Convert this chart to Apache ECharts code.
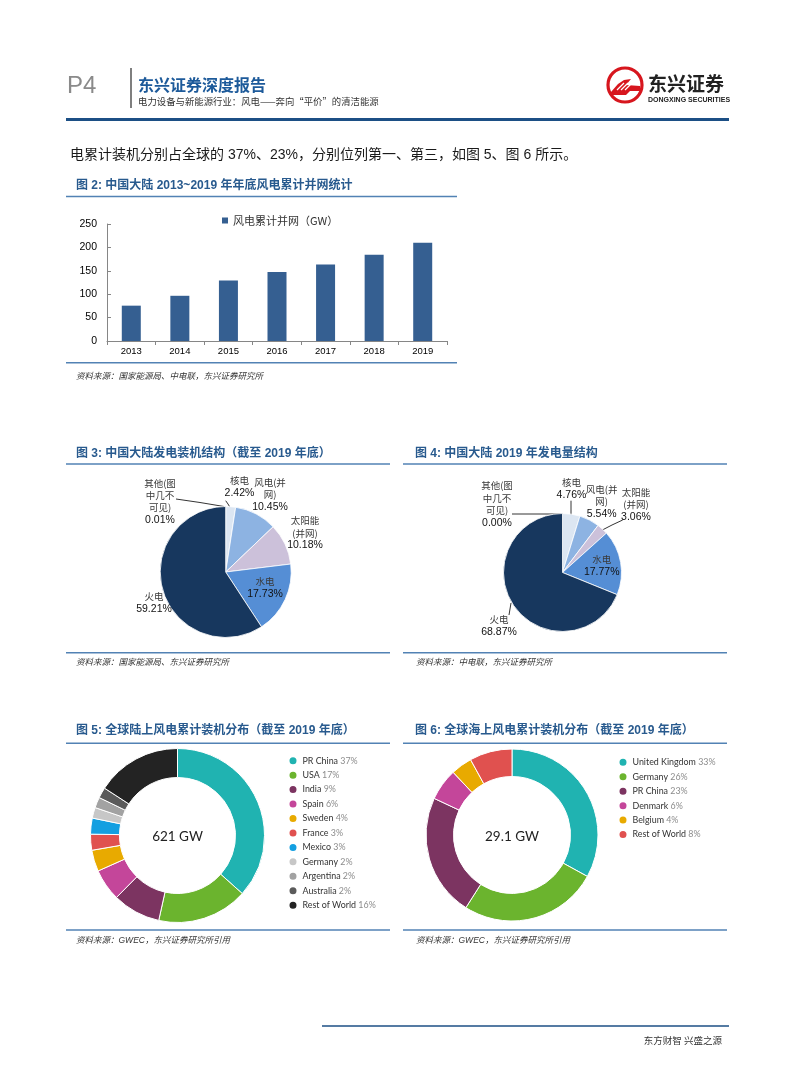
<!DOCTYPE html>
<html><head><meta charset="utf-8">
<script src="https://cdn.jsdelivr.net/npm/echarts@6/dist/echarts.min.js"></script>
<style>
html,body{margin:0;padding:0;background:#fff;}
#main{position:absolute;left:0;top:0;width:794px;height:1077px;}
#fig6{position:absolute;left:400px;top:745px;width:340px;height:185px;}
</style></head>
<body>
<div id="main"></div>
<div id="fig6"></div>
<script>
// ---------- data ----------
const fig2Years = ['2013','2014','2015','2016','2017','2018','2019'];
const fig2Values = [75.5, 96.6, 129.3, 147.5, 163.7, 184.3, 210.0];
const fig2SeriesName = '风电累计并网（GW）';

const fig3Names = ['其他(图中几不可见)','核电','风电(并网)','太阳能(并网)','水电','火电'];
const fig3Labels = ['其他(图\n中几不\n可见)','核电','风电(并\n网)','太阳能\n(并网)','水电','火电'];
const fig3Values = [0.01, 2.42, 10.45, 10.18, 17.73, 59.21];

const fig4Names = ['其他(图中几不可见)','核电','风电(并网)','太阳能(并网)','水电','火电'];
const fig4Labels = ['其他(图\n中几不\n可见)','核电','风电(并\n网)','太阳能\n(并网)','水电','火电'];
const fig4Values = [0.00, 4.76, 5.54, 3.06, 17.77, 68.87];

const fig5Names = ['PR China','USA','India','Spain','Sweden','France','Mexico','Germany','Argentina','Australia','Rest of World'];
const fig5Values = [37, 17, 9, 6, 4, 3, 3, 2, 2, 2, 16];
const fig5Total = '621 GW';

const fig6Names = ['United Kingdom','Germany','PR China','Denmark','Belgium','Rest of World'];
const fig6Values = [33, 26, 23, 6, 4, 8];
const fig6Total = '29.1 GW';

// ---------- styles / layout ----------
const CJK = '"Noto Sans CJK SC", sans-serif';
const LAT = '"Liberation Sans", "Noto Sans CJK SC", sans-serif';
const GILL = 'Lato, "Noto Sans", sans-serif';
const titleBlue = '#285a8e';
const lineBlue = '#5282b4';
const energyColors = ['#4f81bd','#dce6f2','#8db3e2','#ccc1da','#558ed5','#17375e'];
const fig5Colors = ['#20b3b1','#6bb42e','#7c3461','#c4469a','#e8aa00','#e0514f','#139fe1','#c7c7c7','#a2a2a2','#5b5b5b','#232323'];
const fig6Colors = ['#20b3b1','#6bb42e','#7c3461','#c4469a','#e8aa00','#e0514f'];

const fig3LabelPos = [[160,501.7],[239.5,486.5],[270,494.5],[305,533],[265,587.5],[154,602.7]];
const fig3LinePts = {0:[[176,499],[200,502.5],[224,506.5]], 1:[[225.7,500.7],[228,504],[230,507.3]]};
const fig4LabelPos = [[497,504.2],[571.5,489],[601.7,501.4],[636,504.4],[601.7,565.8],[499,625.8]];
const fig4LinePts = {0:[[512,514],[537,514],[562.5,514]], 1:[[571,500.7],[571,508],[571,515]], 3:[[622.7,520],[612,525],[601,530.7]], 5:[[509,615],[510,609],[511,603]]};

function txt(x, y, text, o) {
  return {type:'text', x:x, y:y, silent:true, style:Object.assign({text:text, fill:'#222', fontSize:12, fontFamily:CJK, align:'left', verticalAlign:'middle'}, o||{})};
}
function ln(x1, y1, x2, y2, color, w) {
  return {type:'line', silent:true, shape:{x1:x1,y1:y1,x2:x2,y2:y2}, style:{stroke:color, lineWidth:w}};
}

function energyPie(names, labels, values, center, radius, labelPos, linePts) {
  return {
    type:'pie', center:center, radius:radius, startAngle:90, clockwise:true,
    avoidLabelOverlap:false, silent:true,
    itemStyle:{borderColor:'#fff', borderWidth:0.8},
    data: names.map((n,i)=>({name:n, value:values[i], itemStyle:{color:energyColors[i]},
      labelLine:{show: !!linePts[i], lineStyle:{color:'#000', width:0.8}}})),
    label:{show:true, position:'outside', align:'center',
      formatter: p => '{n|' + labels[p.dataIndex] + '}\n{v|' + p.value.toFixed(2) + '%}',
      rich:{
        n:{fontFamily:CJK, fontSize:9.5, color:'#3a3a3a', lineHeight:12.3, align:'center'},
        v:{fontFamily:LAT, fontSize:10.5, color:'#111', lineHeight:12.3, align:'center'}
      }},
    labelLayout: p => {
      const pos = labelPos[p.dataIndex];
      const r = {x:pos[0], y:pos[1], align:'center', verticalAlign:'middle'};
      if (linePts[p.dataIndex]) r.labelLinePoints = linePts[p.dataIndex];
      return r;
    }
  };
}

function donut(names, values, colors, center, radius) {
  return {
    type:'pie', center:center, radius:radius, startAngle:90, clockwise:true, silent:true,
    itemStyle:{borderColor:'#fff', borderWidth:1},
    label:{show:false}, labelLine:{show:false},
    data: names.map((n,i)=>({name:n, value:values[i], itemStyle:{color:colors[i]}}))
  };
}
function donutLegend(names, values, left, top) {
  return {
    orient:'vertical', left:left, top:top, icon:'circle', itemWidth:9, itemHeight:9, itemGap:2.45,
    selectedMode:false, data:names, padding:0,
    formatter: name => '{n|' + name + '} {v|' + values[names.indexOf(name)] + '%}',
    textStyle:{fontFamily:GILL, fontSize:8.9, lineHeight:12,
      rich:{n:{fontFamily:GILL, fontSize:8.9, color:'#333', lineHeight:12},
            v:{fontFamily:GILL, fontSize:8.9, color:'#8c8c8c', lineHeight:12}}}
  };
}

// ---------- graphics ----------
const graphics = [
  txt(67, 86, 'P4', {fontFamily:LAT, fontSize:24, fill:'#8a8a8a'}),
  ln(131, 68, 131, 108, '#555', 1.5),
  txt(138, 85, '东兴证券深度报告', {fontSize:16, fontWeight:'bold', fill:'#1d5a9a'}),
  txt(138, 101, '电力设备与新能源行业：风电——奔向“平价”的清洁能源', {fontSize:9.4, fill:'#333'}),
  // logo
  {type:'circle', silent:true, shape:{cx:625, cy:85, r:17}, style:{fill:'#fff', stroke:'#d7161e', lineWidth:3.2}},
  {type:'polygon', silent:true, shape:{points:[[611,92],[618,84],[624,80],[631,79],[626,85],[640,86],[640,91],[630,91],[626,95],[611,95]]}, style:{fill:'#d7161e'}},
  ln(617,90,624,83,'#fff',1.2), ln(621,90,628,83,'#fff',1.2), ln(625,90,632,83,'#fff',1.2),
  txt(648, 84, '东兴证券', {fontSize:19, fontWeight:'bold', fill:'#222'}),
  txt(648, 100.5, 'DONGXING SECURITIES', {fontFamily:LAT, fontSize:7, fontWeight:'bold', fill:'#222'}),
  ln(66, 119.5, 729, 119.5, '#1c4f85', 3.2),
  txt(70, 155, '电累计装机分别占全球的 37%、23%，分别位列第一、第三，如图 5、图 6 所示。', {fontFamily:LAT, fontSize:14, fill:'#1a1a1a'}),

  // fig 2
  txt(76, 186, '图 2: 中国大陆 2013~2019 年年底风电累计并网统计', {fontFamily:LAT, fontSize:12, fontWeight:'bold', fill:titleBlue}),
  ln(66, 196.5, 457, 196.5, lineBlue, 1.5),
  ln(66, 362.7, 457, 362.7, lineBlue, 1.5),
  txt(76, 376, '资料来源：国家能源局、中电联，东兴证券研究所', {fontSize:8.5, fontStyle:'italic', fill:'#333'}),

  // fig 3
  txt(76, 453.3, '图 3: 中国大陆发电装机结构（截至 2019 年底）', {fontFamily:LAT, fontSize:12, fontWeight:'bold', fill:titleBlue}),
  ln(66, 464, 390, 464, lineBlue, 1.5),
  ln(66, 652.7, 390, 652.7, lineBlue, 1.5),
  txt(76, 662, '资料来源：国家能源局、东兴证券研究所', {fontSize:8.5, fontStyle:'italic', fill:'#333'}),

  // fig 4
  txt(415, 453.3, '图 4: 中国大陆 2019 年发电量结构', {fontFamily:LAT, fontSize:12, fontWeight:'bold', fill:titleBlue}),
  ln(403, 464, 727, 464, lineBlue, 1.5),
  ln(403, 652.7, 727, 652.7, lineBlue, 1.5),
  txt(416, 662, '资料来源：中电联，东兴证券研究所', {fontSize:8.5, fontStyle:'italic', fill:'#333'}),

  // fig 5
  txt(76, 730.5, '图 5: 全球陆上风电累计装机分布（截至 2019 年底）', {fontFamily:LAT, fontSize:12, fontWeight:'bold', fill:titleBlue}),
  ln(66, 743.3, 390, 743.3, lineBlue, 1.5),
  ln(66, 930, 390, 930, lineBlue, 1.5),
  txt(76, 941, '资料来源：GWEC，东兴证券研究所引用', {fontFamily:LAT, fontSize:8.5, fontStyle:'italic', fill:'#333'}),
  txt(177.5, 836.5, fig5Total, {fontFamily:GILL, fontSize:13.5, fill:'#222', align:'center'}),

  // fig 6
  txt(415, 730.5, '图 6: 全球海上风电累计装机分布（截至 2019 年底）', {fontFamily:LAT, fontSize:12, fontWeight:'bold', fill:titleBlue}),
  ln(403, 743.3, 727, 743.3, lineBlue, 1.5),
  ln(403, 930, 727, 930, lineBlue, 1.5),
  txt(416, 941, '资料来源：GWEC，东兴证券研究所引用', {fontFamily:LAT, fontSize:8.5, fontStyle:'italic', fill:'#333'}),

  // footer
  ln(322, 1026, 729, 1026, '#1c4f85', 1.5),
  txt(722, 1040, '东方财智 兴盛之源', {fontSize:9.5, fill:'#333', align:'right'})
];

// ---------- main chart ----------
const main = echarts.init(document.getElementById('main'), null, {renderer:'canvas'});
main.setOption({
  animation:false,
  backgroundColor:'#fff',
  grid:[{left:107, top:224, width:340, height:117, containLabel:false}],
  xAxis:[{type:'category', gridIndex:0, data:fig2Years,
    axisLine:{show:true, lineStyle:{color:'#868686', width:1}},
    axisTick:{show:true, length:4, lineStyle:{color:'#868686'}},
    axisLabel:{fontFamily:LAT, fontSize:9.5, color:'#000', margin:6}}],
  yAxis:[{type:'value', gridIndex:0, min:0, max:250, interval:50,
    axisLine:{show:true, lineStyle:{color:'#868686', width:1}},
    axisTick:{show:true, inside:true, length:4, lineStyle:{color:'#868686'}},
    splitLine:{show:false},
    axisLabel:{fontFamily:LAT, fontSize:10.5, color:'#000', margin:10}}],
  legend:[
    {data:[fig2SeriesName], left:222, top:215, icon:'rect', itemWidth:6, itemHeight:6, padding:0,
     selectedMode:false, textStyle:{fontFamily:CJK, fontSize:11, color:'#333'}},
    donutLegend(fig5Names, fig5Values, 287.5, 754.7)
  ],
  series:[
    {type:'bar', name:fig2SeriesName, xAxisIndex:0, yAxisIndex:0, data:fig2Values, barWidth:19,
     itemStyle:{color:'#355f91'}, silent:true},
    energyPie(fig3Names, fig3Labels, fig3Values, [225.7, 572], 65.5, fig3LabelPos, fig3LinePts),
    energyPie(fig4Names, fig4Labels, fig4Values, [562.5, 572.5], 59, fig4LabelPos, fig4LinePts),
    donut(fig5Names, fig5Values, fig5Colors, [177.5, 835.5], [58, 87])
  ],
  graphic:graphics
});

// ---------- fig 6 (own instance so shared legend names keep their own colours) ----------
const f6 = echarts.init(document.getElementById('fig6'), null, {renderer:'canvas'});
f6.setOption({
  animation:false,
  legend:[donutLegend(fig6Names, fig6Values, 217.5, 11.3)],
  series:[donut(fig6Names, fig6Values, fig6Colors, [112, 90], [58.5, 86])],
  graphic:[txt(112, 92, fig6Total, {fontFamily:GILL, fontSize:13.5, fill:'#222', align:'center'})]
});
</script>
</body></html>
